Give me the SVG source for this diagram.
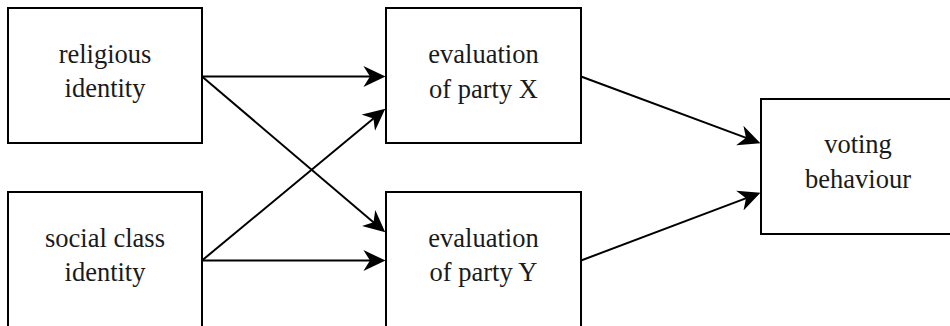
<svg xmlns="http://www.w3.org/2000/svg" width="950" height="326" viewBox="0 0 950 326">
<style>
.box{fill:#fff;stroke:#000;stroke-width:2}
.lbl{font-family:"Liberation Serif","DejaVu Serif",serif;font-size:26.5px;fill:#1a1a1a;text-anchor:middle}
.edge{stroke:#000;stroke-width:2;fill:none;marker-end:url(#arr)}
</style>
<defs>
<marker id="arr" markerUnits="userSpaceOnUse" markerWidth="22" markerHeight="22" viewBox="0 0 20 20" refX="16" refY="10" orient="auto">
<path d="M0,0.5 L20,10 L0,19.5 L6,10 Z" fill="#000"/>
</marker>
</defs>
<rect width="950" height="326" fill="#fff"/>
<g id="religious">
<rect class="box" x="8" y="8" width="194" height="135"/>
<text class="lbl" x="105" y="63">religious</text>
<text class="lbl" x="105" y="97">identity</text>
</g>
<g id="social">
<rect class="box" x="8" y="192" width="194" height="135"/>
<text class="lbl" x="105" y="247">social class</text>
<text class="lbl" x="105" y="281">identity</text>
</g>
<g id="evalX">
<rect class="box" x="386" y="8" width="195" height="135"/>
<text class="lbl" x="483.5" y="63">evaluation</text>
<text class="lbl" x="483.5" y="98">of party X</text>
</g>
<g id="evalY">
<rect class="box" x="386" y="192" width="195" height="135"/>
<text class="lbl" x="483.5" y="247">evaluation</text>
<text class="lbl" x="483.5" y="281">of party Y</text>
</g>
<g id="voting">
<rect class="box" x="761" y="99" width="195" height="135"/>
<text class="lbl" x="858" y="153">voting</text>
<text class="lbl" x="858" y="188">behaviour</text>
</g>
<g id="connectors">
<line class="edge" x1="202" y1="76.5" x2="381" y2="76.5"/>
<line class="edge" x1="202" y1="76.5" x2="381.9" y2="229.4"/>
<line class="edge" x1="202" y1="260.5" x2="381.9" y2="111.5"/>
<line class="edge" x1="202" y1="260.5" x2="381" y2="260.5"/>
<line class="edge" x1="581" y1="76.5" x2="756.3" y2="141.6"/>
<line class="edge" x1="581" y1="260.5" x2="756.3" y2="194.4"/>
</g>
</svg>
